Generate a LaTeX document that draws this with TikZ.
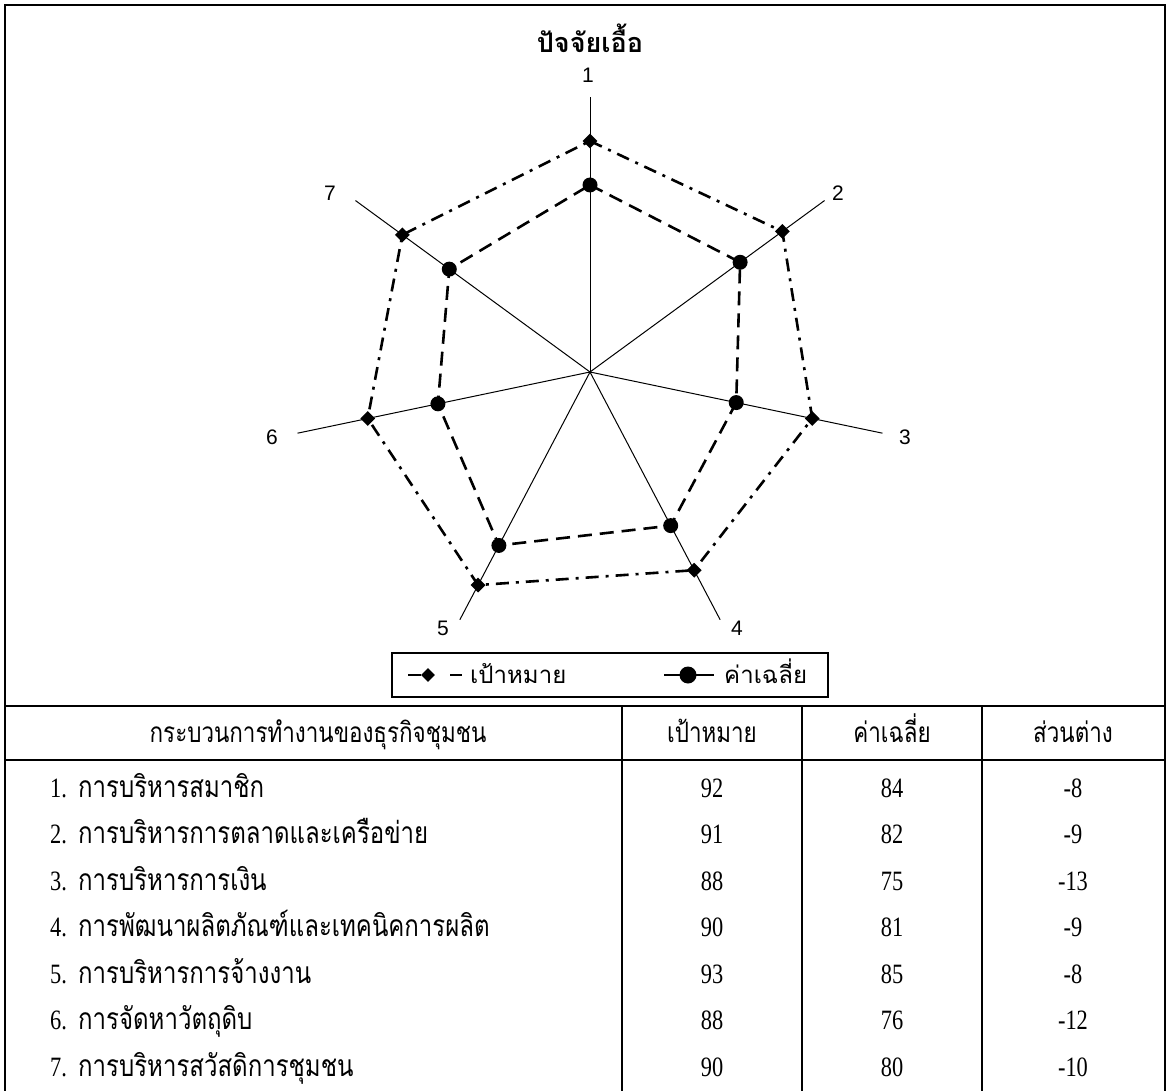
\documentclass[tikz,border=0pt]{standalone}
\usepackage{fontspec}
\setmainfont{Liberation Serif}
\newfontfamily\thaifont[Script=Thai]{Loma}
\newfontfamily\thainarrow[Script=Thai,FakeStretch=0.8]{Loma}
\newfontfamily\numfont[FakeStretch=0.8]{Liberation Serif}
\newfontfamily\arialfont{Liberation Sans}
\usetikzlibrary{shapes.geometric}
\usetikzlibrary{positioning}

\begin{document}
\begin{tikzpicture}[x=1pt,y=-1pt,
		axisline/.style={line width=1pt},
		targetline/.style={line width=2.6pt,dash pattern=on 13pt off 7pt on 3pt off 7pt},
		meanline/.style={line width=2.6pt,dash pattern=on 14pt off 8pt},
		tmark/.style={diamond,fill=black,inner sep=0pt,minimum size=15pt},
		mmark/.style={circle,fill=black,inner sep=0pt,minimum size=15pt},
		axlabel/.style={font=\arialfont\fontsize{21}{21}\selectfont,inner sep=1pt},
		legtext/.style={font=\thaifont\fontsize{24}{24}\selectfont,inner sep=0pt},
		thhead/.style={font=\thainarrow\fontsize{28}{28}\selectfont,inner sep=0pt},
		thcell/.style={font=\thainarrow\fontsize{30}{30}\selectfont,inner sep=0pt},
		numcell/.style={font=\numfont\fontsize{28}{28}\selectfont,inner sep=0pt}]
	\useasboundingbox (0,0) rectangle (1175,1091);
	% frame and table rules
	\draw[line width=1.3pt] (5,1091) -- (5,5) -- (1165,5) -- (1165,1091);
	\draw[line width=1.2pt] (5,706) -- (1165,706);
	\draw[line width=1.2pt] (5,760) -- (1165,760);
	\foreach \cx in {622,802,982}
		\draw[line width=1.1pt] (\cx,706) -- (\cx,1091);
	
	% radar chart
	\node[font=\thaifont\bfseries\fontsize{27}{27}\selectfont,inner sep=0pt] (title) at (590,38) {ปัจจัยเอื้อ};
	\coordinate (c) at (590,372);
	\foreach \i/\tv/\mv in {1/92/84,2/91/82,3/88/75,4/90/81,5/93/85,6/88/76,7/90/80} {
		\pgfmathsetmacro\ang{90-(\i-1)*360/7}
		\coordinate (e\i) at ({590+300*cos(\ang)},{372-275*sin(\ang)});
		\coordinate (pt\i) at ({590+300*cos(\ang)*(\tv-50)/50},{372-275*sin(\ang)*(\tv-50)/50});
		\coordinate (pm\i) at ({590+300*cos(\ang)*(\mv-50)/50},{372-275*sin(\ang)*(\mv-50)/50});
		\draw[axisline] (c) -- (e\i);
	}
	\foreach \i/\lx/\ly in {1/588/75,2/838/193,3/905/437,4/737/628,5/443/628,6/272/437,7/330/193}
		\node[axlabel] (l\i) at (\lx,\ly) {\i};
	
	\draw[targetline] (pt1) \foreach \i in {2,...,7} {-- (pt\i)} -- cycle;
	\draw[meanline] (pm1) \foreach \i in {2,...,7} {-- (pm\i)} -- cycle;
	\foreach \i in {1,...,7} {
		\node[tmark] (t\i) at (pt\i) {};
		\node[mmark] (m\i) at (pm\i) {};
	}
	
	% legend
	\node[draw,line width=1.3pt,minimum width=436pt,minimum height=44pt,inner sep=0pt] (legend) at (610,675) {};
	\coordinate (la) at (408,675);
	\node[tmark,minimum size=14pt] (ld) at (428,675) {};
	\coordinate (lb) at (450,675);
	\coordinate (lc) at (462,675);
	\draw[line width=1.4pt] (la) -- (ld);
	\draw[line width=1.4pt] (lb) -- (lc);
	\node[legtext,right=8pt of lc,anchor=base west,yshift=-8pt] (lt1) {เป้าหมาย};
	\coordinate (ma) at (664,675);
	\node[mmark,minimum size=17pt] (lm) at (688,675) {};
	\coordinate (mb) at (714,675);
	\draw[line width=1.4pt] (ma) -- (mb);
	\node[legtext,right=10pt of mb,anchor=base west,yshift=-8pt] (lt2) {ค่าเฉลี่ย};
	
	% table
	\node[thhead,anchor=base] (h1) at (318,742) {กระบวนการทำงานของธุรกิจชุมชน};
	\node[thhead,anchor=base] (h2) at (712,742) {เป้าหมาย};
	\node[thhead,anchor=base] (h3) at (892,742) {ค่าเฉลี่ย};
	\node[thhead,anchor=base] (h4) at (1073,742) {ส่วนต่าง};
	\foreach \k/\name/\tv/\mv/\dv in {1/การบริหารสมาชิก/92/84/-8,2/การบริหารการตลาดและเครือข่าย/91/82/-9,3/การบริหารการเงิน/88/75/-13,4/การพัฒนาผลิตภัณฑ์และเทคนิคการผลิต/90/81/-9,5/การบริหารการจ้างงาน/93/85/-8,6/การจัดหาวัตถุดิบ/88/76/-12,7/การบริหารสวัสดิการชุมชน/90/80/-10} {
		\pgfmathsetmacro\ry{797+46.5*(\k-1)}
		\node[numcell,anchor=base west] (n\k) at (50,\ry) {\k.};
		\node[thcell,anchor=base west] (r\k) at (78,\ry) {\name};
		\node[numcell,anchor=base] (g\k) at (712,\ry) {\tv};
		\node[numcell,anchor=base] (a\k) at (892,\ry) {\mv};
		\node[numcell,anchor=base] (d\k) at (1073,\ry) {\dv};
	}
\end{tikzpicture}
\end{document}
